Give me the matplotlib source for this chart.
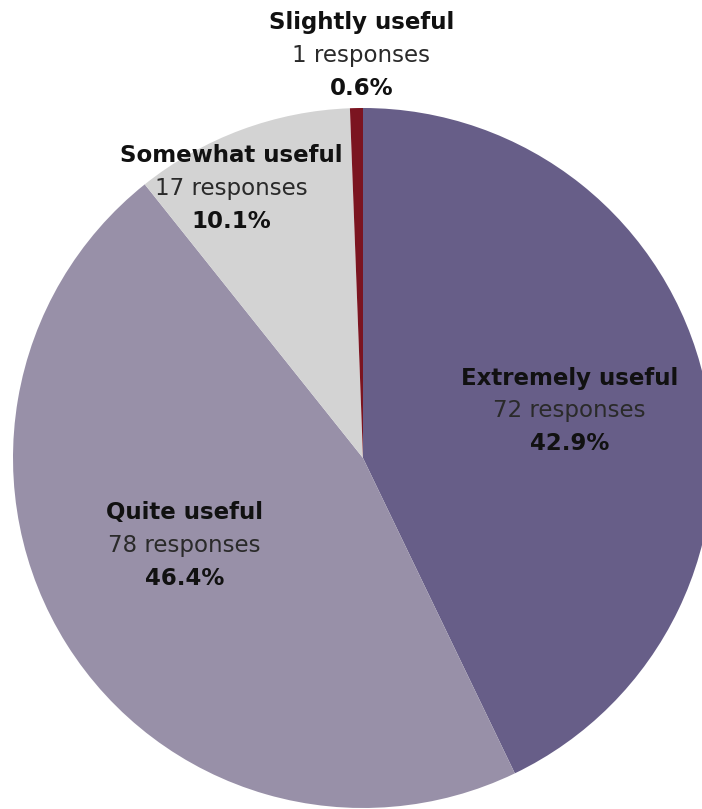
import matplotlib
matplotlib.use("Agg")
import matplotlib.pyplot as plt

# ----- Data ----- #
categories = ["Extremely useful", "Quite useful", "Somewhat useful", "Slightly useful"]
responses = [72, 78, 17, 1]
percents = ["42.9%", "46.4%", "10.1%", "0.6%"]
colors = ["#675e88", "#9890a8", "#d3d3d3", "#7b1420"]

# label anchor (x, y) in pie units, radius = 1
label_pos = [(0.59, 0.135), (-0.51, -0.25), (-0.375, 0.77), (-0.005, 1.15)]

# ----- Figure ----- #
fig = plt.figure(figsize=(7.02, 8.09), dpi=100)
ax = fig.add_axes([0, 0, 1, 1])
cx, cy, r = 363, 458, 350  # pixel centre and radius
ax.set_aspect("equal")
ax.axis("off")

ax.pie(responses, colors=colors, startangle=90, counterclock=False,
       radius=1, center=(0, 0), wedgeprops=dict(linewidth=0))
ax.set_xlim(-cx / r, (702 - cx) / r)
ax.set_ylim((cy - 809) / r, cy / r)

step = 0.093
for cat, n, pct, (x, y) in zip(categories, responses, percents, label_pos):
    ax.text(x, y + step, cat, ha="center", va="center", fontsize=16.5,
            fontweight="bold", color="#111111")
    ax.text(x, y, f"{n} responses", ha="center", va="center", fontsize=16.5,
            color="#2a2a2a")
    ax.text(x, y - step, pct, ha="center", va="center", fontsize=16.5,
            fontweight="bold", color="#111111")

fig.savefig("out.png", dpi=100)
